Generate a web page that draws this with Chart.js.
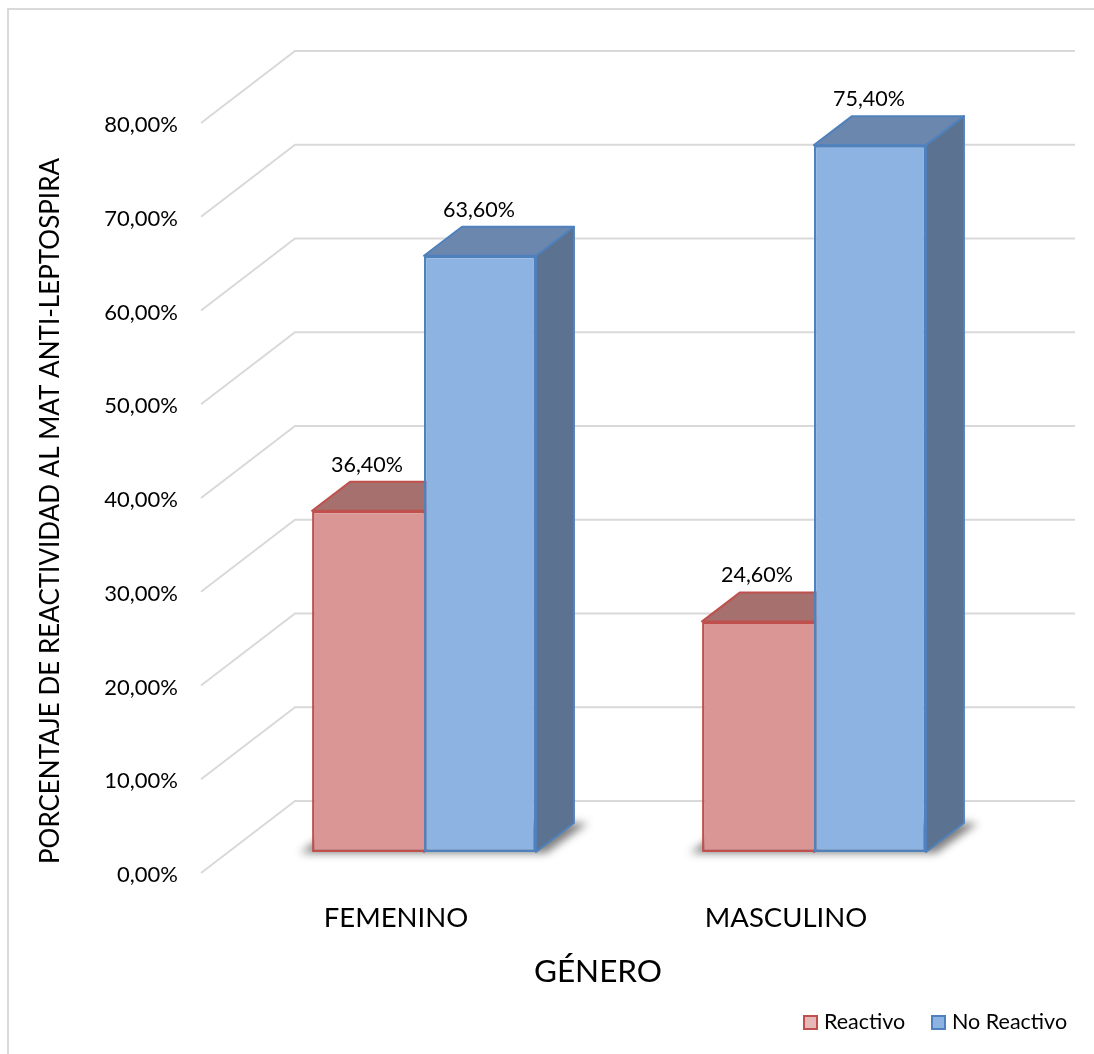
<!DOCTYPE html>
<html>
<head>
<meta charset="utf-8">
<style>
  html, body { margin: 0; padding: 0; background: #fff; }
  canvas { display: block; }
</style>
<script src="https://cdn.jsdelivr.net/npm/chart.js@4"></script>
</head>
<body>
<canvas id="generoChart" width="1094" height="1054"></canvas>
<script>
const categories = ['FEMENINO', 'MASCULINO'];
const reactivo = [36.4, 24.6];
const noReactivo = [63.6, 75.4];
const tickLabels = ['0,00%', '10,00%', '20,00%', '30,00%', '40,00%', '50,00%', '60,00%', '70,00%', '80,00%'];
const xTitle = 'GÉNERO';
const yTitle = 'PORCENTAJE DE REACTIVIDAD AL MAT ANTI-LEPTOSPIRA';

const FONT = 'Lato';
const GRID = '#d9d9d9';

// how far the back wall and the bars sit behind the axis plane
// (tickLift: Lato reads high on its middle baseline, the scale sits lower to compensate)
const tickLift = 2;
const wall = { dx: 94, dy: -74 };
const barShift = { dx: 28, dy: -23 };
const depth = { dx: 38, dy: -29 };

const faces = [
  { border: '#c0504d', top: '#a5706e', side: '#8f5f5d', swatch: '#e6b8b7' },
  { border: '#4f81bd', top: '#6b87ae', side: '#5b7391', swatch: '#8db3e2' }
];

function pctText(v) {
  return v.toFixed(2).replace('.', ',') + '%';
}

// outer frame, only top and left, then the walls with their gridlines
function drawWalls(chart) {
  const ctx = chart.ctx;
  const { x, y } = chart.scales;
  ctx.save();
  ctx.strokeStyle = GRID;
  ctx.lineWidth = 2;
  ctx.beginPath();
  ctx.moveTo(8, 1054);
  ctx.lineTo(8, 9);
  ctx.lineTo(1094, 9);
  ctx.stroke();
  y.ticks.forEach(t => {
    const py = y.getPixelForValue(t.value);
    ctx.beginPath();
    ctx.moveTo(x.left, py - tickLift);
    ctx.lineTo(x.left + wall.dx, py + wall.dy);
    ctx.lineTo(x.right + wall.dx, py + wall.dy);
    ctx.stroke();
  });
  ctx.restore();
}

function poly(ctx, pts, fill, stroke) {
  ctx.beginPath();
  pts.forEach((p, i) => i ? ctx.lineTo(p[0], p[1]) : ctx.moveTo(p[0], p[1]));
  ctx.closePath();
  ctx.fillStyle = fill;
  ctx.fill();
  if (stroke) {
    ctx.strokeStyle = stroke;
    ctx.lineWidth = 2;
    ctx.lineJoin = 'round';
    ctx.stroke();
  }
}

// soft floor shadow under each pair of bars
function drawShadows(chart) {
  const ctx = chart.ctx;
  const first = chart.getDatasetMeta(0).data;
  const second = chart.getDatasetMeta(1).data;
  ctx.save();
  ctx.filter = 'blur(4px)';
  first.forEach((bar, i) => {
    const l = bar.x - bar.width / 2;
    const r = second[i].x + second[i].width / 2;
    const b = bar.base;
    poly(ctx, [[l - 12, b + 1], [r + 10, b + 1], [r + depth.dx + 14, b + depth.dy], [l + 30, b + depth.dy]], 'rgba(40,40,40,0.6)');
  });
  ctx.restore();
}

// top and side faces of the bars, red pair first so the blue ones cover them
function drawFaces(chart) {
  const ctx = chart.ctx;
  [0, 1].forEach(ds => {
    const f = faces[ds];
    chart.getDatasetMeta(ds).data.forEach(bar => {
      const l = bar.x - bar.width / 2;
      const r = bar.x + bar.width / 2;
      const t = bar.y;
      const b = bar.base;
      poly(ctx, [[r, t], [r + depth.dx, t + depth.dy], [r + depth.dx, b + depth.dy], [r, b]], f.side, f.border);
      poly(ctx, [[l, t], [l + depth.dx, t + depth.dy], [r + depth.dx, t + depth.dy], [r, t]], f.top, f.border);
    });
  });
}

function drawValueLabels(chart) {
  const ctx = chart.ctx;
  ctx.save();
  ctx.font = '21.5px ' + FONT;
  ctx.fillStyle = '#000';
  ctx.textAlign = 'center';
  ctx.textBaseline = 'middle';
  chart.data.datasets.forEach((set, ds) => {
    chart.getDatasetMeta(ds).data.forEach((bar, i) => {
      ctx.fillText(pctText(set.data[i]), bar.x + barShift.dx - 1, bar.y + barShift.dy - 46);
    });
  });
  ctx.restore();
}

// axis titles sit off-centre from the plot, so they are placed here
function drawAxisTitles(chart) {
  const ctx = chart.ctx;
  ctx.save();
  ctx.fillStyle = '#000';
  ctx.textAlign = 'center';
  ctx.textBaseline = 'middle';
  ctx.font = '31.5px ' + FONT;
  ctx.fillText(xTitle, 598, 972);
  ctx.translate(51, 511);
  ctx.rotate(-Math.PI / 2);
  ctx.font = '26px ' + FONT;
  ctx.fillText(yTitle, 0, 0);
  ctx.restore();
}

function drawLegend(chart) {
  const ctx = chart.ctx;
  const spots = [803, 931];
  ctx.save();
  ctx.font = '21.5px ' + FONT;
  ctx.textBaseline = 'middle';
  chart.data.datasets.forEach((set, ds) => {
    ctx.fillStyle = faces[ds].swatch;
    ctx.strokeStyle = faces[ds].border;
    ctx.lineWidth = 2;
    ctx.fillRect(spots[ds] + 1, 1016, 13, 13);
    ctx.strokeRect(spots[ds] + 1, 1016, 13, 13);
    ctx.fillStyle = '#000';
    ctx.fillText(set.label, spots[ds] + 21, 1022);
  });
  ctx.restore();
}

const bars3d = {
  id: 'bars3d',
  beforeDatasetsDraw(chart) {
    drawWalls(chart);
    chart.ctx.save();
    chart.ctx.translate(barShift.dx, barShift.dy);
    drawShadows(chart);
    drawFaces(chart);
  },
  afterDatasetsDraw(chart) {
    chart.ctx.restore();
    drawValueLabels(chart);
    drawAxisTitles(chart);
    drawLegend(chart);
  }
};

new Chart(document.getElementById('generoChart'), {
  type: 'bar',
  data: {
    labels: categories,
    datasets: [{
      label: 'Reactivo',
      data: reactivo,
      backgroundColor: '#d99694',
      borderColor: faces[0].border,
      borderWidth: 2.5,
      borderSkipped: 'right',
      clip: false
    }, {
      label: 'No Reactivo',
      data: noReactivo,
      backgroundColor: '#8db3e2',
      borderColor: faces[1].border,
      borderWidth: 2.5,
      borderSkipped: false,
      clip: false
    }]
  },
  options: {
    responsive: false,
    animation: false,
    categoryPercentage: 0.574,
    barPercentage: 1,
    layout: { padding: { left: 0, top: 125, right: 113, bottom: 56 } },
    plugins: { legend: { display: false }, tooltip: { enabled: false } },
    scales: {
      x: {
        grid: { display: false },
        border: { display: false },
        ticks: { color: '#000', font: { family: FONT, size: 27.5 }, padding: 19, maxRotation: 0 },
        afterFit(scale) { scale.height = 123; }
      },
      y: {
        min: 0,
        max: 80,
        grid: { display: false },
        border: { display: false },
        ticks: {
          stepSize: 10,
          color: '#000',
          font: { family: FONT, size: 22 },
          padding: 15,
          callback: (v, i) => tickLabels[i]
        },
        afterFit(scale) { scale.width = 201; }
      }
    }
  },
  plugins: [bars3d]
});
</script>
</body>
</html>
